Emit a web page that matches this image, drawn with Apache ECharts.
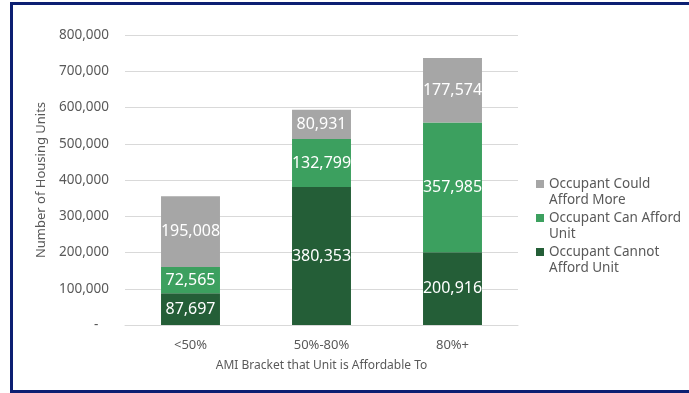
<!DOCTYPE html>
<html>
<head>
<meta charset="utf-8">
<script src="https://cdn.jsdelivr.net/npm/echarts@6/dist/echarts.min.js"></script>
<style>
  html, body { margin: 0; padding: 0; background: #fff; }
  #frame { position: absolute; left: 10px; top: 2px; width: 700px; height: 385px;
           border: 3px solid #0c1f72; border-right: none; }
  #main { position: absolute; left: 0; top: 0; width: 689px; height: 393px; }
</style>
</head>
<body>
<div id="frame"></div>
<div id="main"></div>
<script>
// AMI brackets
var categories = ['<50%', '50%-80%', '80%+'];
var cannotAfford = [87697, 380353, 200916];
var canAfford = [72565, 132799, 357985];
var couldAffordMore = [195008, 80931, 177574];

var names = ['Occupant Cannot Afford Unit', 'Occupant Can Afford Unit', 'Occupant Could Afford More'];
// leading empty line so the square sits beside the first line
var wrapped = {
    'Occupant Could Afford More': '\nOccupant Could\nAfford More',
    'Occupant Can Afford Unit': '\nOccupant Can Afford\nUnit',
    'Occupant Cannot Afford Unit': '\nOccupant Cannot\nAfford Unit'
};
var colors = ['#245e37', '#3ca05f', '#a6a6a6'];
var fontFam = '"Noto Sans", "Open Sans", sans-serif';

function fmt(v) {
    return v.toLocaleString('en-US');
}

var myChart = echarts.init(document.getElementById('main'));

var series = [cannotAfford, canAfford, couldAffordMore].map(function (d, i) {
    return {
        name: names[i],
        type: 'bar',
        stack: 'total',
        barWidth: '45%',
        data: d,
        itemStyle: { color: colors[i] },
        label: {
            show: true,
            position: 'inside',
            color: '#fff',
            fontSize: 16,
            fontFamily: fontFam,
            formatter: function (p) { return fmt(p.value); }
        }
    };
});

var option = {
    animation: false,
    textStyle: { fontFamily: fontFam },
    grid: { left: 125, right: 171, top: 35, bottom: 68 },
    legend: {
        orient: 'vertical',
        left: 531,
        top: 155,
        icon: 'rect',
        itemWidth: 8,
        itemHeight: 8,
        itemGap: -14,
        data: ['Occupant Could Afford More', 'Occupant Can Afford Unit', 'Occupant Cannot Afford Unit'],
        formatter: function (n) { return wrapped[n]; },
        textStyle: { color: '#595959', fontSize: 13.5, lineHeight: 16 }
    },
    xAxis: {
        type: 'category',
        data: categories,
        name: 'AMI Bracket that Unit is Affordable To',
        nameLocation: 'middle',
        nameGap: 35,
        nameTextStyle: { color: '#595959', fontSize: 12 },
        axisLine: { lineStyle: { color: '#d9d9d9' } },
        axisTick: { show: false },
        axisLabel: { color: '#595959', fontSize: 13, margin: 14 }
    },
    yAxis: {
        type: 'value',
        min: 0,
        max: 800000,
        interval: 100000,
        name: 'Number of Housing Units',
        nameLocation: 'middle',
        nameGap: 76,
        nameTextStyle: { color: '#595959', fontSize: 13 },
        axisLine: { show: false },
        axisTick: { show: false },
        splitLine: { lineStyle: { color: '#d9d9d9' } },
        axisLabel: {
            color: '#595959',
            fontSize: 13.5,
            margin: 16,
            formatter: function (v) { return v === 0 ? '-   ' : fmt(v); }
        }
    },
    series: series
};

myChart.setOption(option);
</script>
</body>
</html>
